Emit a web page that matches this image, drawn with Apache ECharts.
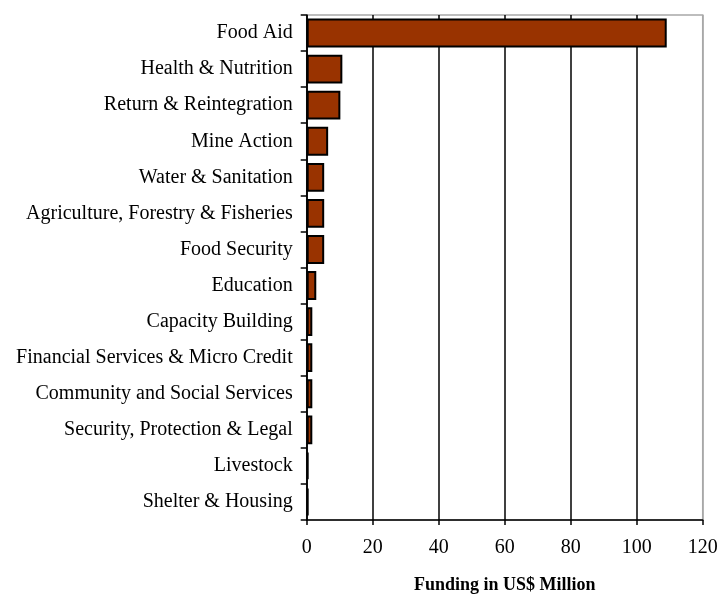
<!DOCTYPE html>
<html><head><meta charset="utf-8">
<script src="https://cdn.jsdelivr.net/npm/echarts@6/dist/echarts.min.js"></script>
<style>html,body{margin:0;padding:0;background:#fff}#c{width:717px;height:596px}</style>
</head><body><div id="c"></div>
<script>
var categories = ["Food Aid","Health & Nutrition","Return & Reintegration","Mine Action","Water & Sanitation","Agriculture, Forestry & Fisheries","Food Security","Education","Capacity Building","Financial Services & Micro Credit","Community and Social Services","Security, Protection & Legal","Livestock","Shelter & Housing"];
var funding = [109.1,10.8,10.2,6.5,5.3,5.3,5.3,2.9,1.7,1.7,1.7,1.7,0.6,0.6];
var xTicks = [0,20,40,60,80,100,120];
var axisName = "Funding in US$ Million";

var chart = echarts.init(document.getElementById('c'), null, {renderer:'canvas'});
var font = '"Liberation Serif","Times New Roman",serif';
chart.setOption({
  animation:false,
  textStyle:{fontFamily:font},
  grid:{left:306.7,right:14.3,top:15,bottom:76,show:true,borderColor:'#a8a8a8',borderWidth:1.5,containLabel:false,outerBoundsMode:'none'},
  xAxis:{type:'value',min:xTicks[0],max:xTicks[xTicks.length-1],interval:20,
    axisLine:{show:true,lineStyle:{color:'#000',width:1.5}},
    axisTick:{show:true,length:5,lineStyle:{color:'#000',width:1.5}},
    axisLabel:{color:'#000',fontSize:20,fontFamily:font,margin:18},
    splitLine:{show:true,lineStyle:{color:['#000','#000','#000','#000','#000','#000','#a8a8a8'],width:1.5}},
    name:axisName,nameLocation:'middle',nameGap:56,
    nameTextStyle:{color:'#000',fontSize:18,fontWeight:'bold',fontFamily:font}
  },
  yAxis:{type:'category',data:categories,inverse:true,
    axisLine:{show:true,lineStyle:{color:'#000',width:1.5}},
    axisTick:{show:true,length:6,lineStyle:{color:'#000',width:1.5}},
    axisLabel:{color:'#000',fontSize:20,fontFamily:font,margin:14},
    splitLine:{show:false}
  },
  series:[{type:'bar',data:funding,barCategoryGap:'20%',
    itemStyle:{color:'#993300',borderColor:'#000',borderWidth:2}}]
});
</script></body></html>
